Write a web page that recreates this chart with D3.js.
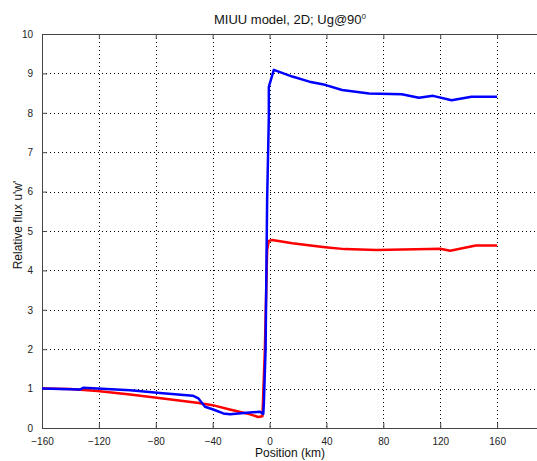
<!DOCTYPE html>
<html>
<head>
<meta charset="utf-8">
<script src="https://cdn.jsdelivr.net/npm/d3@7"></script>
<style>
	body { margin: 0; background: #fff; }
	svg { display: block; font-family: "Liberation Sans", Arial, sans-serif; }
</style>
</head>
<body>
<svg id="chart" width="537" height="461"></svg>
<script>
// series (position km, relative flux)
const redX = [-160, -140, -121, -98, -75, -51, -40, -28, -16, -8, -5, -3.3, -1.7, -0.5, 2, 16, 39, 53, 75, 112, 120, 127, 145, 160];
const redY = [1.0, 0.99, 0.94, 0.85, 0.75, 0.64, 0.58, 0.47, 0.37, 0.28, 0.30, 1.98, 4.52, 4.75, 4.77, 4.69, 4.59, 4.54, 4.52, 4.54, 4.55, 4.50, 4.63, 4.63];

const blueX = [-160, -133, -131, -98, -75, -54, -50, -45.4, -39.6, -32.5, -27.8, -16, -6.7, -4.4, -4.0, -2.8, -1.7, -0.5, -0.5, 3, 16, 28, 39, 51, 70, 93, 105, 115, 128, 142, 160];
const blueY = [1.0, 0.98, 1.02, 0.96, 0.88, 0.82, 0.75, 0.54, 0.47, 0.37, 0.35, 0.39, 0.41, 0.36, 0.63, 1.98, 5.79, 7.9, 8.66, 9.09, 8.92, 8.79, 8.71, 8.58, 8.49, 8.47, 8.38, 8.43, 8.32, 8.41, 8.41];

const xTicks = [-160, -120, -80, -40, 0, 40, 80, 120, 160];
const yTicks = [0, 1, 2, 3, 4, 5, 6, 7, 8, 9, 10];

const svg = d3.select("#chart");
const mLeft = 42, mRight = 554, mTop = 34, mBottom = 428;

// axis runs to 200 but the figure is cropped at the right
const x = d3.scaleLinear().domain([-160, 200]).range([mLeft, mRight]);
const y = d3.scaleLinear().domain([0, 10]).range([mBottom, mTop]);

// dotted grid
const grid = svg.append("g")
	.attr("stroke", "#000")
	.attr("stroke-width", 1)
	.attr("stroke-dasharray", "1,3");
grid.selectAll(".gx").data(xTicks.slice(1)).enter()
	.append("line")
	.attr("x1", d => Math.round(x(d)) + 0.5).attr("x2", d => Math.round(x(d)) + 0.5)
	.attr("y1", mTop).attr("y2", mBottom);
grid.selectAll(".gy").data(yTicks.slice(1, -1)).enter()
	.append("line")
	.attr("y1", d => Math.round(y(d)) + 0.5).attr("y2", d => Math.round(y(d)) + 0.5)
	.attr("x1", mLeft).attr("x2", mRight);

// axes, ticks inward like matlab
const fmt = d => (d < 0 ? "\u2212" + Math.abs(d) : d);
const xAxis = svg.append("g").attr("transform", `translate(0,${mBottom})`)
	.call(d3.axisBottom(x).tickValues(xTicks).tickSizeInner(-5).tickSizeOuter(0).tickPadding(10).tickFormat(fmt));
const xTop = svg.append("g").attr("transform", `translate(0,${mTop})`)
	.call(d3.axisTop(x).tickValues(xTicks).tickSizeInner(-5).tickSizeOuter(0).tickFormat(""));
const yAxis = svg.append("g").attr("transform", `translate(${mLeft},0)`)
	.call(d3.axisLeft(y).tickValues(yTicks).tickSizeInner(-5).tickSizeOuter(0).tickPadding(9).tickFormat(fmt));

[xAxis, xTop, yAxis].forEach(g => {
	g.select(".domain").attr("stroke", "#444").attr("stroke-width", 1);
	g.selectAll(".tick line").attr("stroke", "#444");
	g.selectAll("text").attr("font-size", "10px").attr("fill", "#222")
		.attr("font-family", "Liberation Sans, Arial, sans-serif");
});

// lines
const line = d3.line().x(d => x(d[0])).y(d => y(d[1]));
const red = redX.map((v, i) => [v, redY[i]]);
const blue = blueX.map((v, i) => [v, blueY[i]]);

svg.append("path").datum(red)
	.attr("d", line).attr("fill", "none")
	.attr("stroke", "#ff0000").attr("stroke-width", 2.5).attr("stroke-linejoin", "round");
svg.append("path").datum(blue)
	.attr("d", line).attr("fill", "none")
	.attr("stroke", "#0000ff").attr("stroke-width", 2.5).attr("stroke-linejoin", "round");

// texts
const title = svg.append("text")
	.attr("x", 290).attr("y", 24)
	.attr("text-anchor", "middle").attr("font-size", "13px").attr("fill", "#111");
title.append("tspan").text("MIUU model, 2D; Ug@90");
title.append("tspan").attr("font-size", "8px").attr("dy", -5).text("0");

svg.append("text")
	.attr("x", 290).attr("y", 457)
	.attr("text-anchor", "middle").attr("font-size", "12px").attr("fill", "#111")
	.text("Position (km)");

svg.append("text")
	.attr("transform", "translate(22,225) rotate(-90)")
	.attr("text-anchor", "middle").attr("font-size", "12px").attr("fill", "#111")
	.text("Relative flux u'w'");
</script>
</body>
</html>
